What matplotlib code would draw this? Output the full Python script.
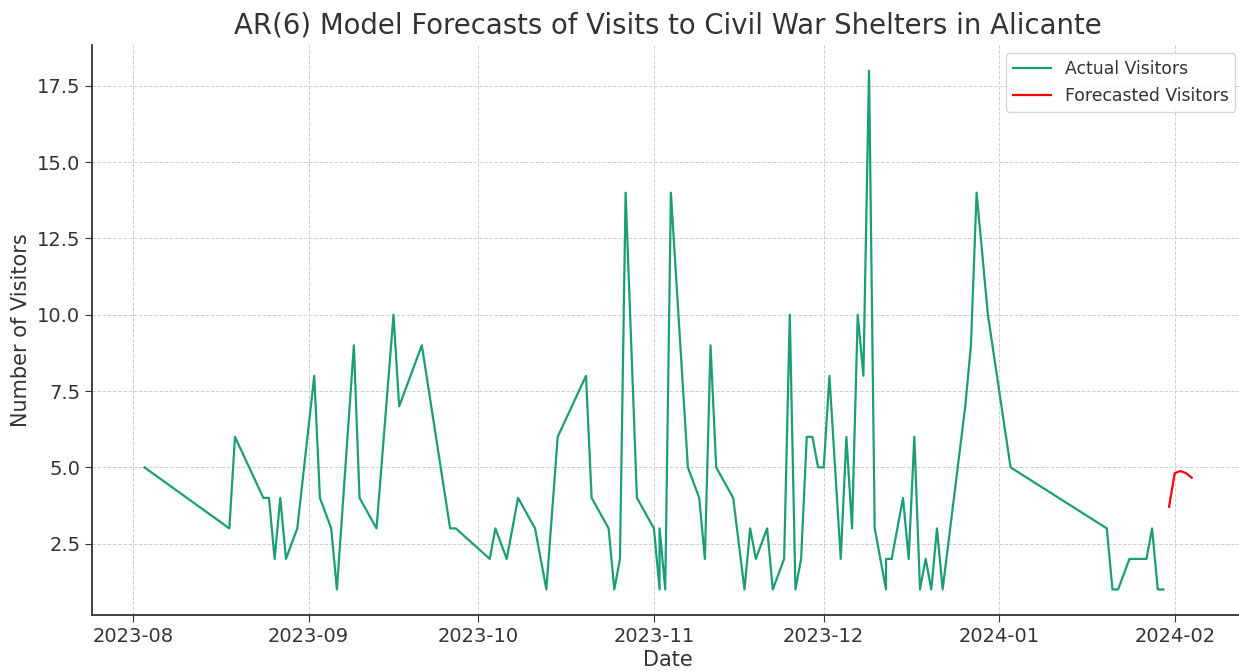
"""AR(6) forecasts of visits to the Alicante civil war shelters"""
import matplotlib
matplotlib.use('Agg')
import matplotlib.pyplot as plt
import matplotlib.dates as mdates
import pandas as pd

# observed daily visitor counts (two dates appear twice in the log)
actual_dates = [
    '2023-08-03', '2023-08-18', '2023-08-19', '2023-08-24', '2023-08-25', '2023-08-26',
    '2023-08-27', '2023-08-28', '2023-08-30', '2023-09-02', '2023-09-03', '2023-09-05',
    '2023-09-06', '2023-09-09', '2023-09-10', '2023-09-13', '2023-09-16', '2023-09-17',
    '2023-09-21', '2023-09-26', '2023-09-27', '2023-10-03', '2023-10-04', '2023-10-06',
    '2023-10-08', '2023-10-11', '2023-10-13', '2023-10-15', '2023-10-20', '2023-10-21',
    '2023-10-24', '2023-10-25', '2023-10-26', '2023-10-27', '2023-10-29', '2023-11-01',
    '2023-11-02', '2023-11-02', '2023-11-03', '2023-11-04', '2023-11-07', '2023-11-09',
    '2023-11-10', '2023-11-11', '2023-11-12', '2023-11-15', '2023-11-17', '2023-11-18',
    '2023-11-19', '2023-11-21', '2023-11-22', '2023-11-24', '2023-11-25', '2023-11-26',
    '2023-11-27', '2023-11-28', '2023-11-29', '2023-11-30', '2023-12-01', '2023-12-02',
    '2023-12-04', '2023-12-05', '2023-12-06', '2023-12-07', '2023-12-08', '2023-12-09',
    '2023-12-10', '2023-12-12', '2023-12-12', '2023-12-13', '2023-12-15', '2023-12-16',
    '2023-12-17', '2023-12-18', '2023-12-19', '2023-12-20', '2023-12-21', '2023-12-22',
    '2023-12-26', '2023-12-27', '2023-12-28', '2023-12-30', '2024-01-03', '2024-01-20',
    '2024-01-21', '2024-01-22', '2024-01-24', '2024-01-27', '2024-01-28', '2024-01-29',
    '2024-01-30',
]
actual_visitors = [
    5, 3, 6, 4, 4, 2,
    4, 2, 3, 8, 4, 3,
    1, 9, 4, 3, 10, 7,
    9, 3, 3, 2, 3, 2,
    4, 3, 1, 6, 8, 4,
    3, 1, 2, 14, 4, 3,
    1, 3, 1, 14, 5, 4,
    2, 9, 5, 4, 1, 3,
    2, 3, 1, 2, 10, 1,
    2, 6, 6, 5, 5, 8,
    2, 6, 3, 10, 8, 18,
    3, 1, 2, 2, 4, 2,
    6, 1, 2, 1, 3, 1,
    7, 9, 14, 10, 5, 3,
    1, 1, 2, 2, 3, 1,
    1,
]

# AR(6) out-of-sample forecast
forecast_dates = ['2024-01-31', '2024-02-01', '2024-02-02', '2024-02-03', '2024-02-04']
forecast_visitors = [3.71, 4.81, 4.88, 4.81, 4.66]

TEXT = '#333333'

fig = plt.figure(figsize=(12.39, 6.71), dpi=100)
ax = fig.add_axes([0.0743, 0.0829, 0.9298, 0.8505])

ax.plot(pd.to_datetime(actual_dates), actual_visitors, color='#1b9e77', lw=1.6,
        label='Actual Visitors')
ax.plot(pd.to_datetime(forecast_dates), forecast_visitors, color='red', lw=1.6,
        label='Forecasted Visitors')

ax.xaxis.set_major_locator(mdates.MonthLocator())
ax.xaxis.set_major_formatter(mdates.DateFormatter('%Y-%m'))

ax.set_title('AR(6) Model Forecasts of Visits to Civil War Shelters in Alicante',
             fontsize=19.8, color=TEXT, pad=8)
ax.set_xlabel('Date', fontsize=15, color=TEXT, labelpad=3)
ax.set_ylabel('Number of Visitors', fontsize=15, color=TEXT, labelpad=4)
ax.tick_params(labelsize=14, colors=TEXT, length=5)

ax.grid(True, ls='--', color='#cfcfcf', lw=0.7)
for side in ('top', 'right'):
    ax.spines[side].set_visible(False)
for side in ('left', 'bottom'):
    ax.spines[side].set_color(TEXT)
    ax.spines[side].set_linewidth(1.3)

leg = ax.legend(loc='upper right', fontsize=12.4, frameon=True, handlelength=2.2)
leg.get_frame().set_edgecolor('#cccccc')
for t in leg.get_texts():
    t.set_color(TEXT)

fig.savefig('out.png', dpi=100)
plt.close()
